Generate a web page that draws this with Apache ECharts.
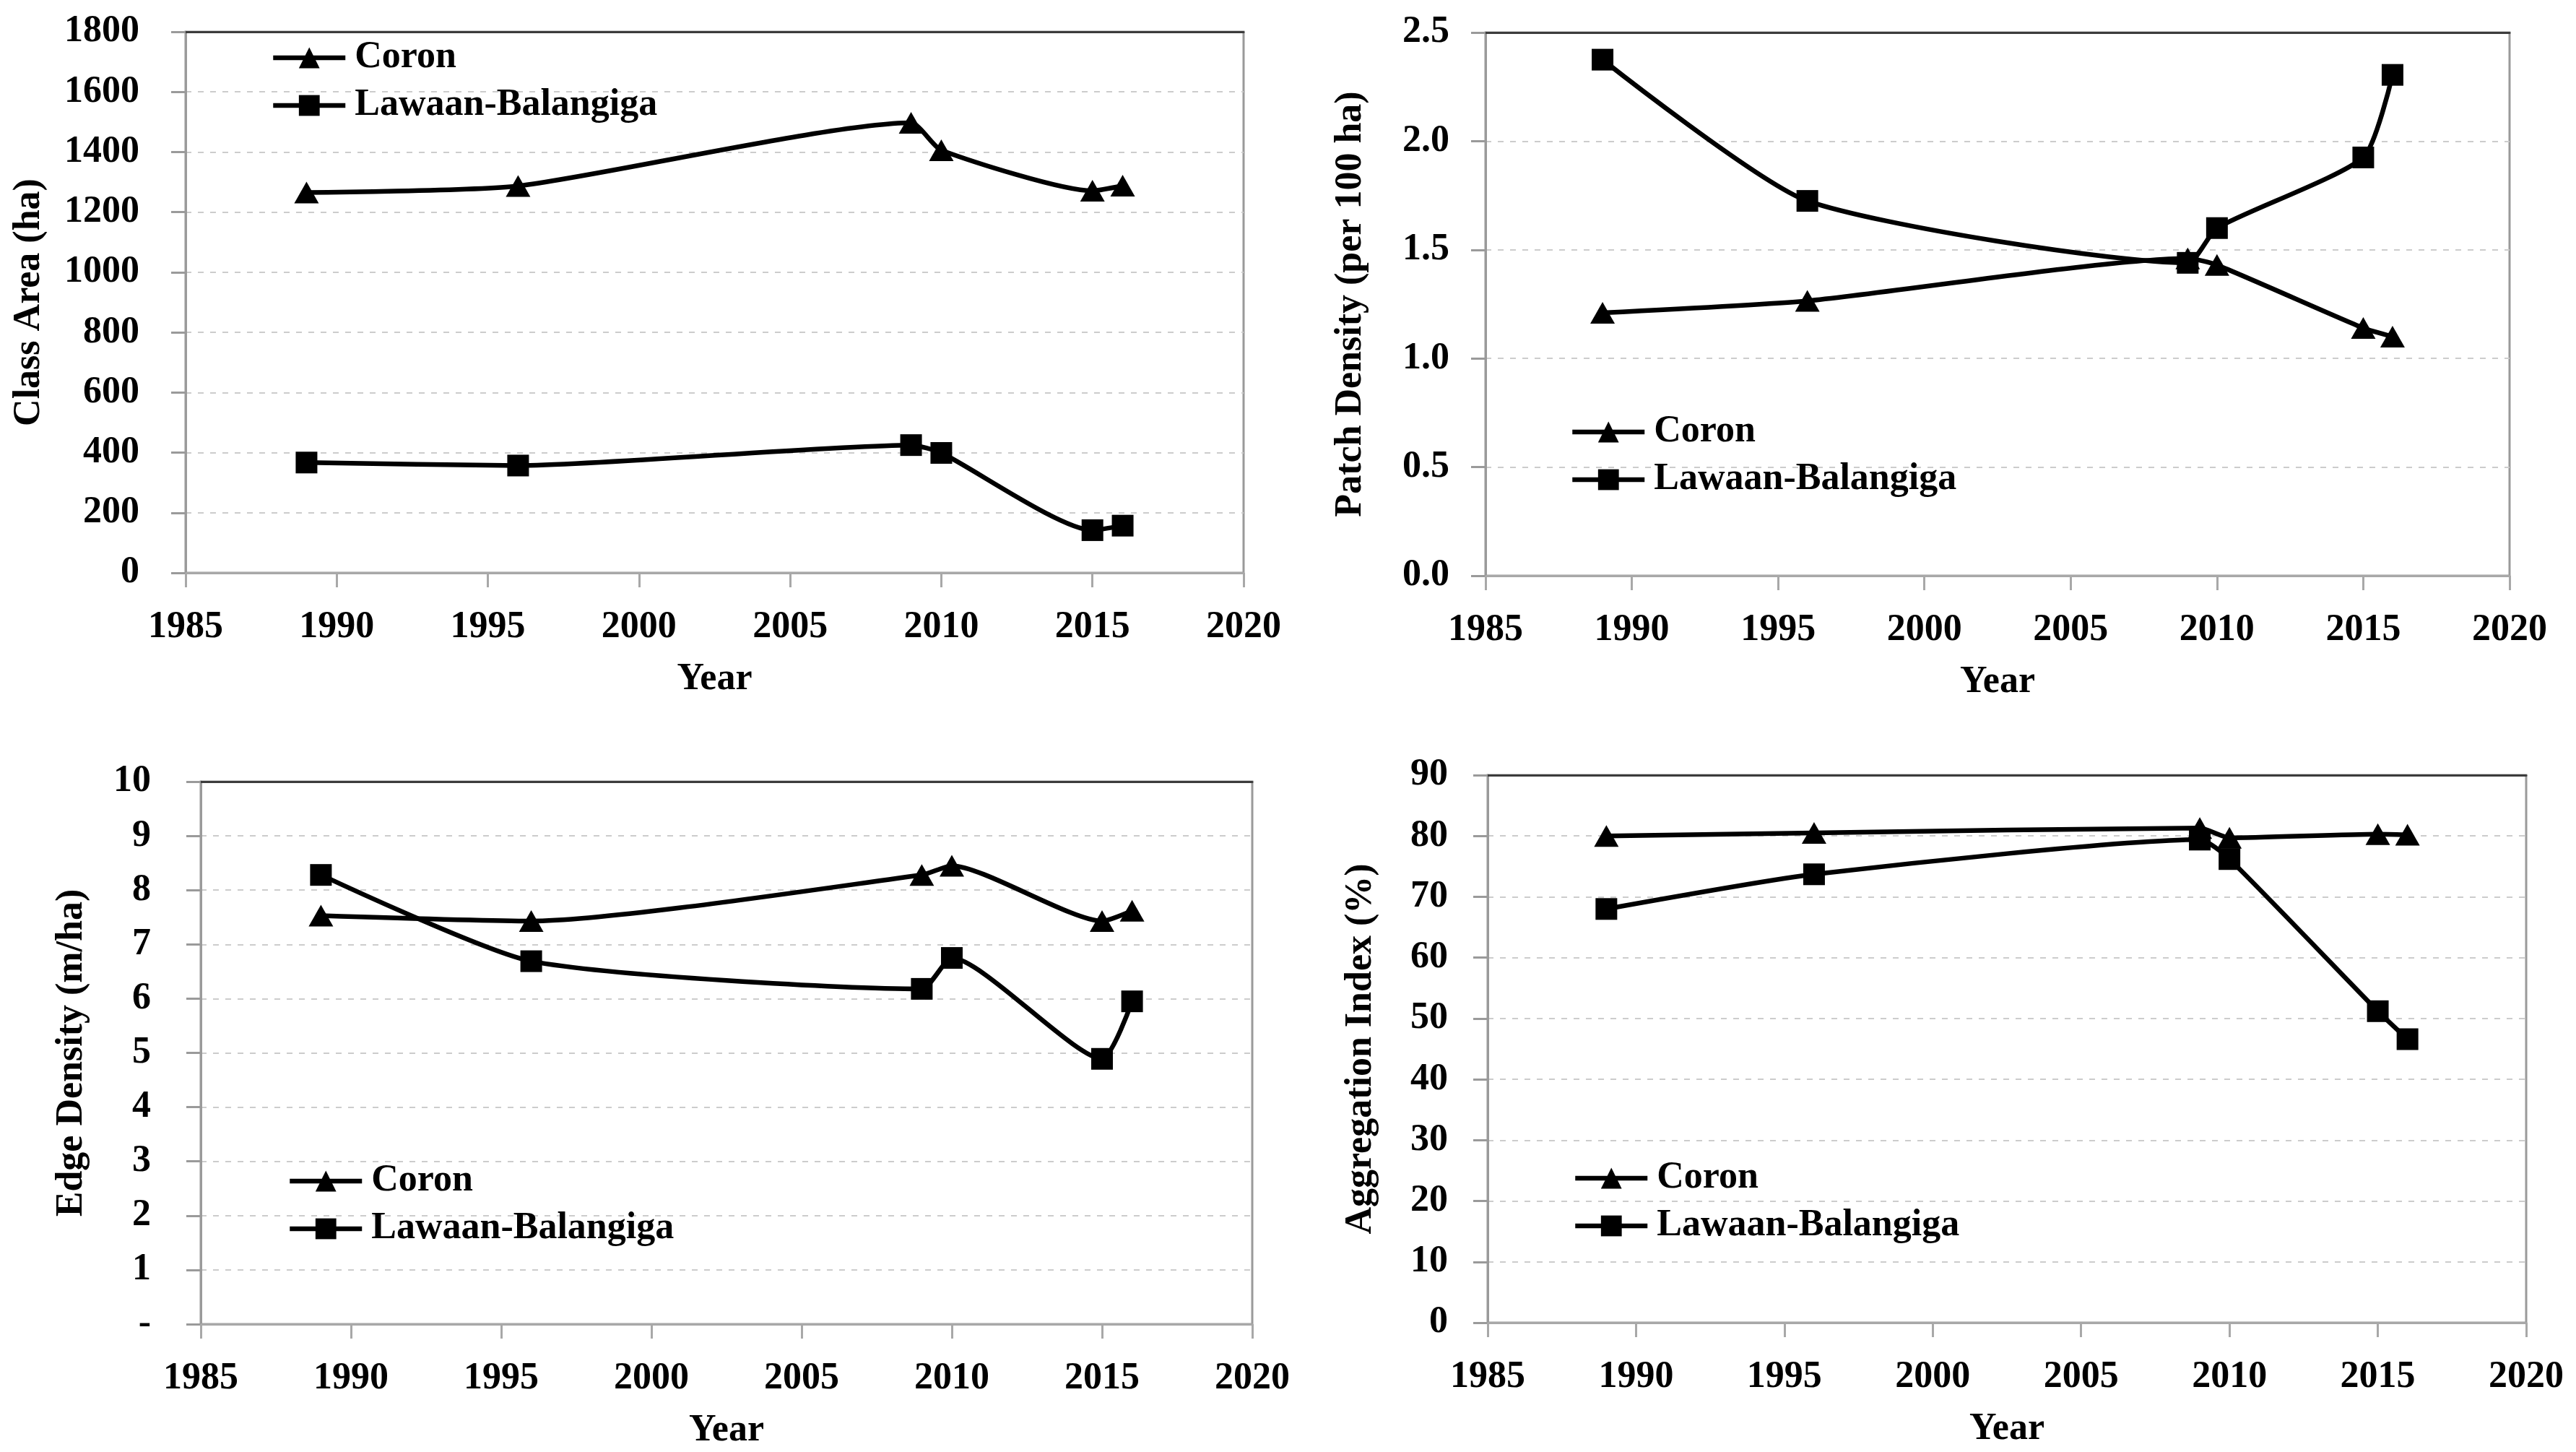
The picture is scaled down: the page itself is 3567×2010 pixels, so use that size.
<!DOCTYPE html>
<html>
<head>
<meta charset="utf-8">
<script src="https://cdn.jsdelivr.net/npm/echarts@6/dist/echarts.min.js"></script>
<style>
html,body{margin:0;padding:0;background:#fff;}
#c{width:3567px;height:2010px;}
</style>
</head>
<body>
<div id="c"></div>
<script>
// ---- data ----
const years = [1989, 1996, 2009, 2010, 2015, 2016];
const seriesNames = ['Coron', 'Lawaan-Balangiga'];

const classAreaCoron = [1265, 1287, 1497, 1406, 1271, 1288];
const classAreaLawaan = [367, 357, 425, 399, 142, 157];

const patchDensityCoron = [1.21, 1.265, 1.46, 1.43, 1.14, 1.10];
const patchDensityLawaan = [2.375, 1.725, 1.44, 1.60, 1.925, 2.305];

const edgeDensityCoron = [7.53, 7.43, 8.28, 8.45, 7.43, 7.62];
const edgeDensityLawaan = [8.28, 6.69, 6.18, 6.75, 4.89, 5.95];

const aggIndexCoron = [80.0, 80.5, 81.3, 79.7, 80.3, 80.2];
const aggIndexLawaan = [68.0, 73.7, 79.4, 76.2, 51.2, 46.6];

const yNames = ['Class Area (ha)', 'Patch Density (per 100 ha)', 'Edge Density (m/ha)', 'Aggregation Index (%)'];
const xName = 'Year';
const xTicks = {min: 1985, max: 2020, interval: 5};
const yTicks = [
  {min: 0, max: 1800, interval: 200},
  {min: 0, max: 2.5, interval: 0.5},
  {min: 0, max: 10, interval: 1},
  {min: 0, max: 90, interval: 10}
];

// ---- layout ----
const FONT = 'Liberation Serif';
const grids = [
  {left: 257, top: 44, width: 1465, height: 749},
  {left: 2057, top: 45, width: 1418, height: 752},
  {left: 278, top: 1082, width: 1456, height: 751},
  {left: 2060, top: 1073, width: 1438, height: 758}
];
const yLabelMargin = [64, 50, 69, 55];
const yNameGap = [190, 160, 152, 149];
const legendPos = [
  {left: 375, top: 53},
  {left: 2174, top: 571},
  {left: 398, top: 1608},
  {left: 2178, top: 1604}
];
const yFormatters = [
  v => String(v),
  v => v.toFixed(1),
  v => (v === 0 ? '-' : String(v)),
  v => String(v)
];
const panels = [
  [classAreaCoron, classAreaLawaan],
  [patchDensityCoron, patchDensityLawaan],
  [edgeDensityCoron, edgeDensityLawaan],
  [aggIndexCoron, aggIndexLawaan]
];

const xAxes = [], yAxes = [], series = [], legends = [];
grids.forEach((g, i) => {
  xAxes.push({
    type: 'value', gridIndex: i, min: xTicks.min, max: xTicks.max, interval: xTicks.interval,
    name: xName, nameLocation: 'middle', nameGap: 122,
    nameTextStyle: {fontFamily: FONT, fontSize: 52, fontWeight: 'bold', color: '#000'},
    axisLine: {show: true, onZero: false, lineStyle: {color: '#a8a8a8', width: 3}},
    axisTick: {show: true, inside: false, length: 20, lineStyle: {color: '#a8a8a8', width: 3}},
    axisLabel: {fontFamily: FONT, fontSize: 52, fontWeight: 'bold', color: '#000', margin: 50,
      formatter: v => String(v), showMinLabel: true, showMaxLabel: true},
    splitLine: {show: false}
  });
  yAxes.push({
    type: 'value', gridIndex: i, min: yTicks[i].min, max: yTicks[i].max, interval: yTicks[i].interval,
    name: yNames[i], nameLocation: 'middle', nameGap: yNameGap[i], nameRotate: 90,
    nameTextStyle: {fontFamily: FONT, fontSize: 52, fontWeight: 'bold', color: '#000'},
    axisLine: {show: true, onZero: false, lineStyle: {color: '#9a9a9a', width: 3}},
    axisTick: {show: true, inside: false, length: 20, lineStyle: {color: '#9a9a9a', width: 3}},
    axisLabel: {fontFamily: FONT, fontSize: 52, fontWeight: 'bold', color: '#000', margin: yLabelMargin[i],
      formatter: yFormatters[i], showMinLabel: true, showMaxLabel: true},
    splitLine: {show: true, lineStyle: {color: '#cccccc', width: 2, type: [8, 9]}}
  });
  panels[i].forEach((vals, k) => {
    series.push({
      name: seriesNames[k], type: 'line', xAxisIndex: i, yAxisIndex: i,
      data: years.map((y, j) => [y, vals[j]]),
      smooth: 0.2,
      symbol: k === 0 ? 'triangle' : 'rect',
      symbolSize: k === 0 ? [34, 30] : 30,
      showAllSymbol: true,
      lineStyle: {color: '#000', width: 6.5},
      itemStyle: {color: '#000'},
      emphasis: {disabled: true},
      animation: false,
      z: k === 0 ? 3 : 2
    });
  });
  legends.push({
    orient: 'vertical', left: legendPos[i].left, top: legendPos[i].top,
    padding: 0, itemGap: 12, itemWidth: 100, itemHeight: 36,
    data: seriesNames,
    selectedMode: false,
    lineStyle: {width: 6.5},
    textStyle: {fontFamily: FONT, fontSize: 52, fontWeight: 'bold', color: '#000', lineHeight: 54, padding: [0, 0, 0, 8]}
  });
});
// top border axes (dark) for each panel
grids.forEach((g, i) => {
  xAxes.push({
    type: 'value', gridIndex: i, position: 'top', min: xTicks.min, max: xTicks.max,
    axisLine: {show: true, onZero: false, lineStyle: {color: '#3c3c3c', width: 3}},
    axisTick: {show: false}, axisLabel: {show: false}, splitLine: {show: false}
  });
});

const chart = echarts.init(document.getElementById('c'), null, {renderer: 'canvas'});
chart.setOption({
  backgroundColor: '#fff',
  animation: false,
  grid: grids.map(g => Object.assign({show: true, borderColor: '#9a9a9a', borderWidth: 3, backgroundColor: 'transparent'}, g)),
  xAxis: xAxes,
  yAxis: yAxes,
  legend: legends,
  series: series
});
</script>
</body>
</html>
